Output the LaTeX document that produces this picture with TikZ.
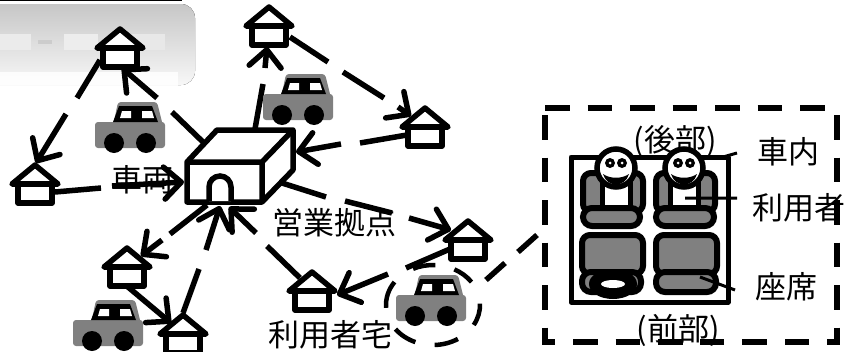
\documentclass[tikz,border=0pt]{standalone}
\usepackage{fontspec}
\setmainfont{Noto Sans CJK JP}
\usetikzlibrary{arrows.meta}
\definecolor{cargray}{HTML}{808080}
\tikzset{
  lnk/.style={line width=5.5pt,draw=black},
  arw/.style={lnk,-{Straight Barb[length=17pt,width=32pt,round]}},
  lead/.style={line width=3pt,draw=black},
  lbl/.style={font=\fontsize{31}{31}\selectfont,inner sep=0pt,text=black},
  seat/.style={line width=6pt,draw=black,fill=cargray,rounded corners=8pt},
  house/.pic={
    \draw[line width=5.5pt,fill=white,line join=round] (-23,19)--(0,0)--(23,19)--cycle;
    \draw[line width=5.5pt,fill=white,line join=round] (-17,19) rectangle (17,38);
  },
  car/.pic={
    \fill[cargray,rounded corners=3pt] (0,20) rectangle (70,46);
    \fill[cargray,rounded corners=3pt] (18,24)--(23,0)--(62,0)--(68,24)--cycle;
    \fill[black] (18,20)--(24,4)--(57,4)--(63,20)--cycle;
    \fill[white] (25,16)--(27,9)--(36,9)--(36,16)--cycle;
    \fill[white] (47,9)--(57,9)--(59,16)--(47,16)--cycle;
    \fill[black] (19,41) circle (10);
    \fill[black] (51,41) circle (10);
  },
  person/.pic={
    \fill[white] (-14,10) rectangle (14,39);
    \draw[line width=5pt] (-14,10)--(-14,38) (14,10)--(14,38);
    \draw[line width=5.5pt,fill=white] (0,0) circle (19);
    \fill (-6,-5) circle (5);
    \fill (6,-5) circle (5);
    \fill[white] (-6,-5) circle (1.5);
    \fill[white] (6,-5) circle (1.5);
    \fill (-13,6) .. controls (-6,11) and (6,11) .. (13,6) .. controls (9,20) and (-9,20) .. cycle;
  }
}
\begin{document}
\begin{tikzpicture}[x=1pt,y=-1pt]
\useasboundingbox (0,0) rectangle (857,351);
\fill[white] (0,0) rectangle (857,351);
% blurred panel at the top left
\fill[top color=black!22,bottom color=black!3,rounded corners=14pt] (-20,4) rectangle (195,85);
\fill[white,opacity=.85] (-10,72) rectangle (178,86);
\fill[black!8] (0,34) rectangle (31,50);
\fill[black!7] (64,34) rectangle (98,50);
\fill[black!9] (130,34) rectangle (165,50);
\fill[black!20] (38,40) rectangle (52,44);
\fill[black] (0,0) rectangle (182,1);
% labels below the lines
\node[lbl] (tCar) at (142,180) {車両};
\node[lbl] (tBase) at (334,223) {営業拠点};
\node[lbl] (tHome) at (330,335) {利用者宅};
\node[lbl] (tRear) at (675,142) {(後部)};
\node[lbl] (tFront) at (678,330) {(前部)};
\node[lbl] (tIn) at (788,152) {車内};
\node[lbl] (tUser) at (799,208) {利用者};
\node[lbl] (tSeat) at (786,287) {座席};
% end points of the dashed links
\foreach \n/\x/\y in {
 a1/100/60,a2/77/98,a3/66/114,a4/36/163,
 b1/203/142,b2/172/112,b3/157/98,b4/122/68,
 c1/255/129,c2/263/84,c3/265/68,c4/267/47,
 d1/290/37,d2/328/62,d3/343/72,d4/384/98,d5/398/107,d6/411/116,
 e1/407/135,e2/360/143,e3/341/144,e4/296/152,
 f1/282/183,f2/326/197,f3/345/201,f4/392/213,f5/409/218,f6/451/230,
 g1/450/249,g2/406/268,g3/388/274,g4/337/295,
 h1/300/278,h2/267/246,h3/256/233,h4/229/207,
 i1/207/205,i2/170/234,i3/162/240,i4/141/256,
 j1/128/287,j2/171/323,
 k1/183/313,k2/199/269,k3/206/250,k4/220/206,
 m1/55/192,m2/101/188,m3/112/186,m4/184/182,
 n1/486/280,n2/505/263,n3/518/252,n4/537/235}
 {\coordinate (\n) at (\x,\y);}
\draw[lnk] (a1)--(a2) (b1)--(b2) (c1)--(c2) (d1)--(d2) (d3)--(d4) (e1)--(e2)
 (f1)--(f2) (f3)--(f4) (g1)--(g2) (h1)--(h2) (i1)--(i2) (k1)--(k2) (m1)--(m2)
 (n1)--(n2) (n3)--(n4);
\draw[arw] (a3)--(a4);
\draw[arw] (b3)--(b4);
\draw[arw] (c3)--(c4);
\draw[arw] (d5)--(d6);
\draw[arw] (e3)--(e4);
\draw[arw] (f5)--(f6);
\draw[arw] (g3)--(g4);
\draw[arw] (h3)--(h4);
\draw[arw] (i3)--(i4);
\draw[arw] (j1)--(j2);
\draw[arw] (k3)--(k4);
\draw[arw] (m3)--(m4);
% houses
\pic at (120,29) {house};
\pic at (269,7) {house};
\pic at (425,108) {house};
\pic at (468,221) {house};
\pic at (312,272) {house};
\pic at (183,315) {house};
\pic at (127,248) {house};
\pic at (35,165) {house};
% cars
\pic at (95,102) {car};
\pic at (263,74) {car};
\pic at (73,300) {car};
\pic at (396,275) {car};
\foreach \s/\e in {245/273,297/325,358/390,418/448,472/503,536/575}
  \draw[line width=4.5pt] (433,305) ++(\s:47 and 40) arc[start angle=\s,end angle=\e,x radius=47,y radius=40];
% depot building
\draw[line width=5.5pt,line join=round] (187,162)--(217,130)--(293,130)--(293,170)--(262,202)--(187,202)--cycle;
\draw[line width=5.5pt,line join=round] (187,162)--(262,162)--(293,130) (262,162)--(262,202);
\draw[line width=5.5pt,fill=white] (209,201)--(209,187) arc[start angle=180,end angle=360,radius=11]--(231,201);
% vehicle interior
\draw[line width=5pt,line join=round] (571,157) rectangle (728,302);
\draw[seat] (583,173) rectangle (643,212);
\draw[seat] (656,173) rectangle (715,212);
\pic at (616,168) {person};
\pic at (684,168) {person};
\draw[seat,rounded corners=9pt] (583,208) rectangle (640,226);
\draw[seat,rounded corners=9pt] (656,208) rectangle (714,226);
\draw[seat] (582,235) rectangle (643,274);
\draw[seat] (656,235) rectangle (717,274);
\draw[seat,rounded corners=9pt] (582,272) rectangle (641,292);
\draw[seat,rounded corners=9pt] (656,272) rectangle (716,292);
\fill[black] (613,284) ellipse[x radius=24,y radius=15];
\fill[white] (613,284) ellipse[x radius=12,y radius=4];
% leaders
\coordinate (li1) at (723,157); \coordinate (li2) at (737,153);
\coordinate (lu1) at (685,198); \coordinate (lu2) at (737,198);
\coordinate (ls1) at (700,277); \coordinate (ls2) at (735,290);
\draw[lead] (li1)--(li2) (lu1)--(lu2) (ls1)--(ls2);
% dashed frame
\draw[line width=6pt,dash pattern=on 24.5pt off 18pt] (545,108)--(826,108);
\draw[line width=6pt,line join=miter,dash pattern=on 24.5pt off 18pt] (545,115)--(545,342)--(691,342);
\draw[line width=6pt,line join=miter,dash pattern=on 24.5pt off 18pt] (837,115)--(837,342)--(691,342);
\end{tikzpicture}
\end{document}
